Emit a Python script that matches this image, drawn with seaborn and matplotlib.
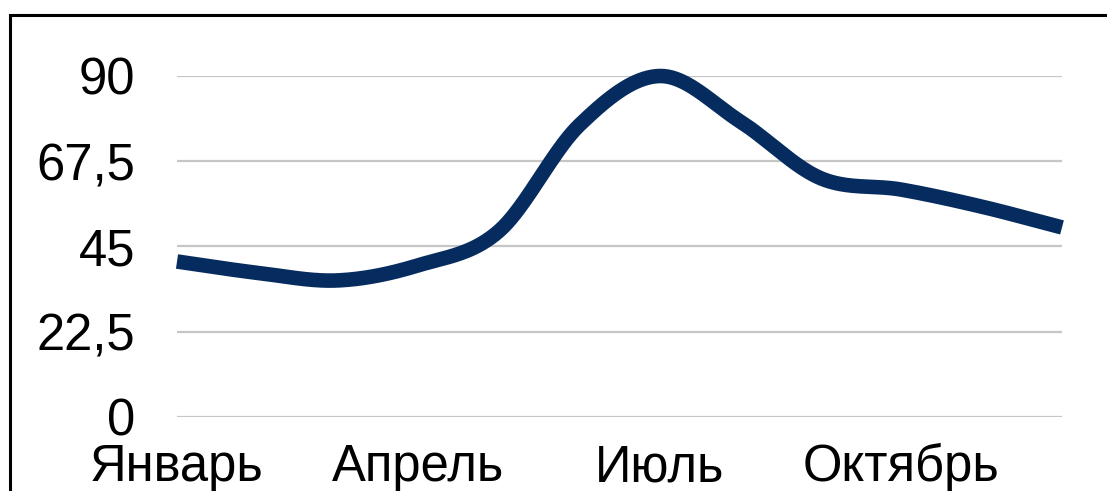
import numpy as np
import pandas as pd
import matplotlib
matplotlib.use("Agg")
import matplotlib.pyplot as plt
from matplotlib.patches import Rectangle
import seaborn as sns

# Monthly values
months = ["Январь", "Февраль", "Март", "Апрель", "Май", "Июнь",
          "Июль", "Август", "Сентябрь", "Октябрь", "Ноябрь", "Декабрь"]
values = [41, 38, 36, 40, 49, 77, 90, 78, 63, 60, 55.5, 50]

# Axis labels
y_ticks = [0, 22.5, 45, 67.5, 90]
y_tick_labels = ["0", "22,5", "45", "67,5", "90"]
x_tick_idx = [0, 3, 6, 9]
x_tick_labels = [months[i] for i in x_tick_idx]

sns.set_theme(style="white")
plt.rcParams["font.family"] = ["Liberation Sans", "DejaVu Sans"]


def catmull_rom(x, y, steps=40):
    """Smooth curve passing through every (x, y) point."""
    x = np.asarray(x, float)
    y = np.asarray(y, float)
    px = np.concatenate([[2 * x[0] - x[1]], x, [2 * x[-1] - x[-2]]])
    py = np.concatenate([[2 * y[0] - y[1]], y, [2 * y[-1] - y[-2]]])
    out_x, out_y = [], []
    t = np.linspace(0, 1, steps, endpoint=False)
    for i in range(1, len(px) - 2):
        for arr, out in ((px, out_x), (py, out_y)):
            p0, p1, p2, p3 = arr[i - 1], arr[i], arr[i + 1], arr[i + 2]
            out.append(0.5 * (2 * p1 + (-p0 + p2) * t
                              + (2 * p0 - 5 * p1 + 4 * p2 - p3) * t ** 2
                              + (-p0 + 3 * p1 - 3 * p2 + p3) * t ** 3))
    out_x.append([x[-1]])
    out_y.append([y[-1]])
    return np.concatenate(out_x), np.concatenate(out_y)


sx, sy = catmull_rom(np.arange(len(values)), values)
df = pd.DataFrame({"x": sx, "y": sy})

W, H = 1107, 491
fig = plt.figure(figsize=(W / 100, H / 100), dpi=100)
ax = fig.add_axes([177 / W, 1 - 416.7 / H, (1062 - 177) / W, (416.7 - 76) / H])

sns.lineplot(data=df, x="x", y="y", ax=ax, color="#062c5f", linewidth=10.5,
             sort=False, estimator=None)
for ln in ax.lines:
    ln.set_clip_on(False)
    ln.set_solid_capstyle("butt")
    ln.set_solid_joinstyle("round")

ax.set_xlim(0, len(values) - 1)
ax.set_ylim(0, 90)
ax.set_yticks(y_ticks)
ax.set_yticklabels(y_tick_labels)
ax.set_xticks(x_tick_idx)
ax.set_xticklabels(x_tick_labels)
ax.tick_params(axis="y", length=0, pad=30, labelsize=36.5, labelcolor="black")
ax.tick_params(axis="x", length=0, pad=19, labelsize=36.5, labelcolor="black")
ax.set_xlabel("")
ax.set_ylabel("")
ax.yaxis.grid(True, color="#c6c6c6", linewidth=1.6)
ax.xaxis.grid(False)
ax.set_axisbelow(True)
for s in ax.spines.values():
    s.set_visible(False)

# Outer chart frame
fig.add_artist(Rectangle((10 / W, -0.5), 2.0, 1 - 15 / H + 0.5,
                         transform=fig.transFigure, fill=False,
                         edgecolor="black", linewidth=2.2))

fig.savefig("out.png", dpi=100)
